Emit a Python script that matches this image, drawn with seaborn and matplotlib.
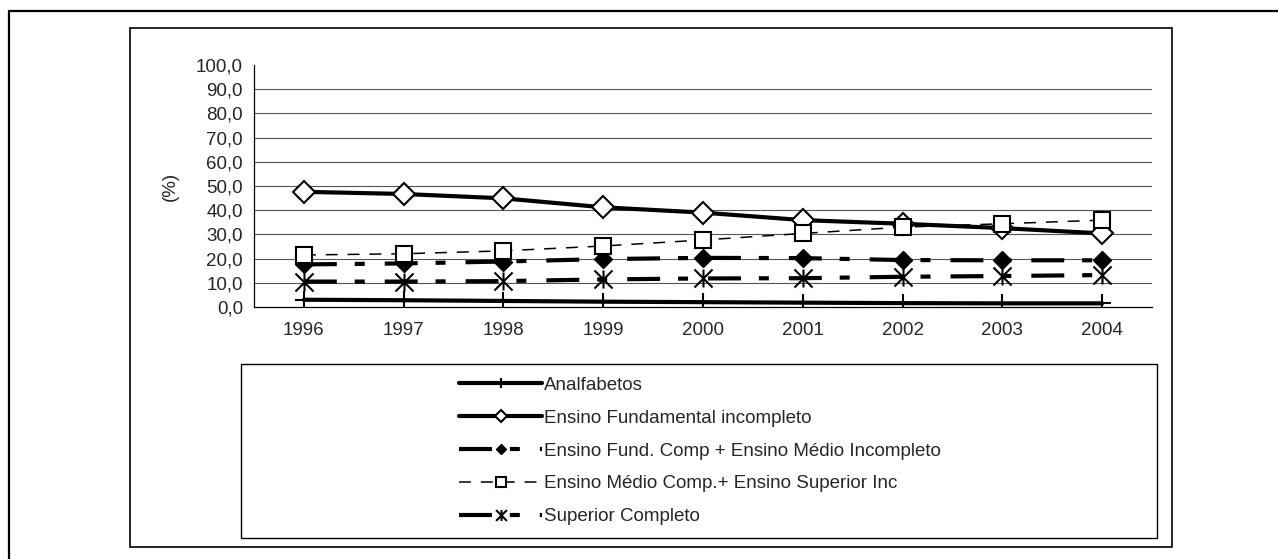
import numpy as np
import pandas as pd
import matplotlib
matplotlib.use("Agg")
import matplotlib.pyplot as plt
from matplotlib.patches import Rectangle
from matplotlib.lines import Line2D
from matplotlib.path import Path
import seaborn as sns

# values
years = [1996, 1997, 1998, 1999, 2000, 2001, 2002, 2003, 2004]
analfabetos = [3.0, 2.8, 2.5, 2.2, 2.0, 1.8, 1.6, 1.5, 1.5]
fund_incompleto = [47.6, 46.7, 44.9, 41.2, 39.0, 35.9, 34.4, 32.6, 30.4]
fund_comp_medio_inc = [17.6, 18.0, 18.8, 19.8, 20.3, 20.2, 19.4, 19.3, 19.3]
medio_comp_sup_inc = [21.5, 22.0, 23.2, 25.2, 27.7, 30.4, 33.0, 34.4, 35.9]
superior_completo = [10.5, 10.5, 10.7, 11.4, 11.8, 11.9, 12.5, 12.8, 13.2]

series_names = [
    "Analfabetos",
    "Ensino Fundamental incompleto",
    "Ensino Fund. Comp + Ensino Médio Incompleto",
    "Ensino Médio Comp.+ Ensino Superior Inc",
    "Superior Completo",
]
y_ticks = np.arange(0, 101, 10)

df = pd.DataFrame({
    "ano": years * 5,
    "valor": analfabetos + fund_incompleto + fund_comp_medio_inc
    + medio_comp_sup_inc + superior_completo,
    "serie": [n for n in series_names for _ in years],
})

# Excel-style star: an X with a vertical bar through it
star = Path([(0, -1), (0, 1), (-1, -1), (1, 1), (-1, 1), (1, -1)],
            [Path.MOVETO, Path.LINETO, Path.MOVETO, Path.LINETO, Path.MOVETO, Path.LINETO])

dashdot = (0, (7.9, 4.3, 2.4, 4.8))
styles = {
    series_names[0]: dict(lw=3.0, ls="-", marker="+", ms=13, mew=1.5, mfc="black"),
    series_names[1]: dict(lw=3.0, ls="-", marker="D", ms=11, mew=1.5, mfc="white"),
    series_names[2]: dict(lw=3.0, ls=dashdot, marker="D", ms=9, mew=1.0, mfc="black"),
    series_names[3]: dict(lw=1.1, ls=(0, (7.8, 6.5)), marker="s", ms=11, mew=1.5,
                          mfc="white"),
    series_names[4]: dict(lw=3.0, ls=dashdot, marker=star, ms=13, mew=1.5,
                          mfc="black"),
}

sns.set_style("white")
plt.rcParams["font.family"] = ["Liberation Sans", "DejaVu Sans"]
FS = 13.5
plt.rcParams["font.size"] = FS

W, H = 1278, 559
fig = plt.figure(figsize=(W / 100, H / 100), dpi=100)
ax = fig.add_axes([254 / W, 1 - 307 / H, (1152 - 254) / W, (307 - 65) / H])

for name in series_names:
    st = styles[name]
    sns.lineplot(data=df[df["serie"] == name], x="ano", y="valor", ax=ax,
                 color="black", label=name, linewidth=st["lw"], linestyle=st["ls"],
                 marker=st["marker"], markersize=st["ms"], markeredgewidth=st["mew"],
                 markerfacecolor=st["mfc"], markeredgecolor="black")

ax.set_xlim(1995.5, 2004.5)
ax.set_ylim(0, 100)
ax.set_xticks(years)
ax.set_xticklabels([str(y) for y in years])
ax.set_xticks(np.arange(1995.5, 2005, 1), minor=True)
ax.tick_params(axis="x", which="major", length=0, pad=11, labelsize=FS)
ax.tick_params(axis="x", which="minor", length=5, width=0.8, color="black")
ax.set_yticks(y_ticks)
ax.set_yticklabels([f"{v:.1f}".replace(".", ",") for v in y_ticks])
ax.tick_params(axis="y", length=5, width=0.8, color="black", labelsize=FS, pad=3)
for v in y_ticks[1:-1]:
    ax.axhline(v, color="#555555", lw=0.8, zorder=0)
ax.set_xlabel("")
ax.set_ylabel("(%)", fontsize=FS, labelpad=12)
for side in ["top", "right"]:
    ax.spines[side].set_visible(False)
for side in ["left", "bottom"]:
    ax.spines[side].set_color("black")
    ax.spines[side].set_linewidth(0.9)

handles, labels = ax.get_legend_handles_labels()
ax.get_legend().remove()

# frames: outer page frame, chart frame, legend box
fig.add_artist(Line2D([9 / W, 9 / W], [0, 1 - 11 / H], transform=fig.transFigure,
                      color="black", lw=1.6))
fig.add_artist(Line2D([9 / W, 1], [1 - 11 / H, 1 - 11 / H], transform=fig.transFigure,
                      color="black", lw=1.6))
fig.add_artist(Rectangle((130 / W, 1 - 547 / H), (1172 - 130) / W, (547 - 28) / H,
                         transform=fig.transFigure, fill=False, ec="black", lw=1.2))
fig.add_artist(Rectangle((241 / W, 1 - 538 / H), (1157 - 241) / W, (538 - 364) / H,
                         transform=fig.transFigure, fill=False, ec="black", lw=1.0))

fig.legend(handles, labels, loc="center", bbox_to_anchor=(700 / W, 1 - 451 / H),
           frameon=False, fontsize=FS, handlelength=4.4, handletextpad=0.1,
           labelspacing=0.84, markerscale=0.6)

fig.savefig("out.png", dpi=100)
